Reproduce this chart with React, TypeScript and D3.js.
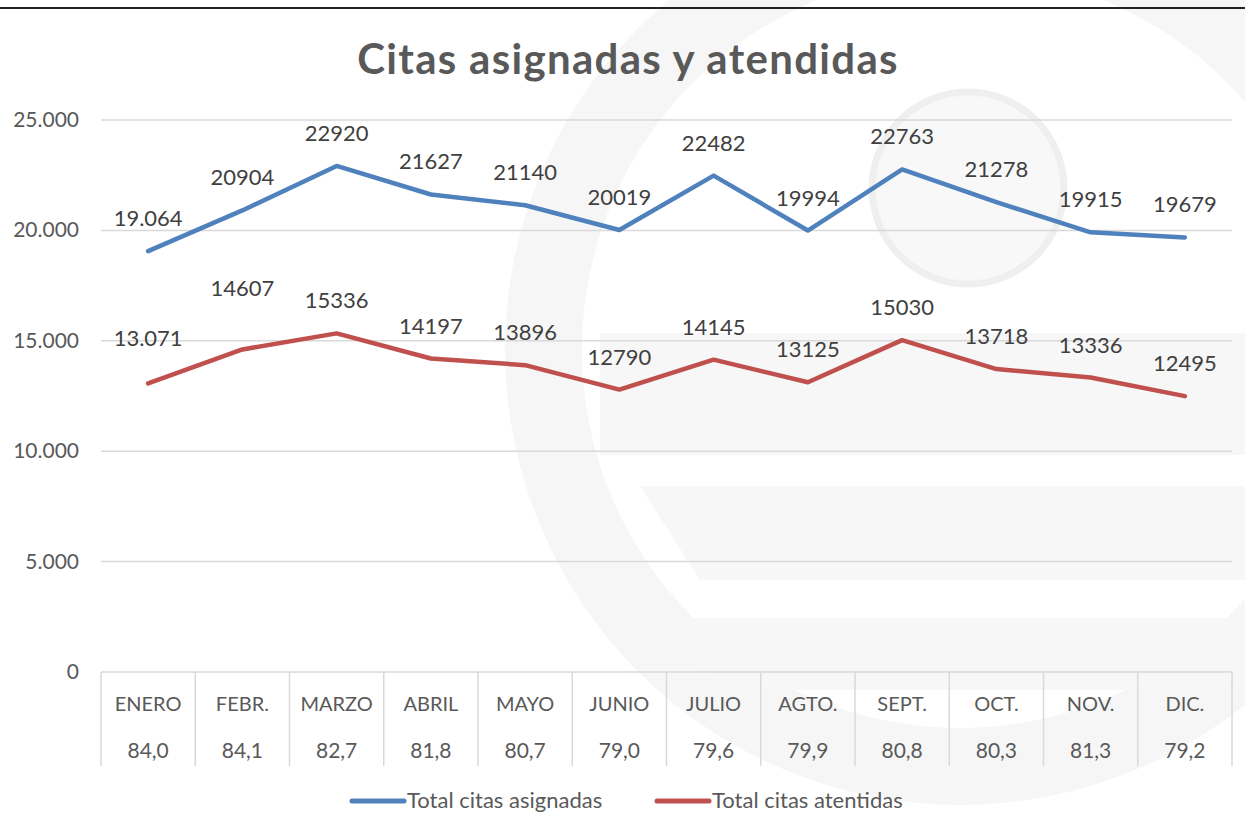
import React from "react";
import * as d3 from "d3";

const months = ["ENERO", "FEBR.", "MARZO", "ABRIL", "MAYO", "JUNIO", "JULIO", "AGTO.", "SEPT.", "OCT.", "NOV.", "DIC."];
const asignadas = [19064, 20904, 22920, 21627, 21140, 20019, 22482, 19994, 22763, 21278, 19915, 19679];
const atendidas = [13071, 14607, 15336, 14197, 13896, 12790, 14145, 13125, 15030, 13718, 13336, 12495];
const asignadasLabels = ["19.064", "20904", "22920", "21627", "21140", "20019", "22482", "19994", "22763", "21278", "19915", "19679"];
const atendidasLabels = ["13.071", "14607", "15336", "14197", "13896", "12790", "14145", "13125", "15030", "13718", "13336", "12495"];
const porcentajes = ["84,0", "84,1", "82,7", "81,8", "80,7", "79,0", "79,6", "79,9", "80,8", "80,3", "81,3", "79,2"];
const yTicks = [0, 5000, 10000, 15000, 20000, 25000];
const yTickLabels = ["0", "5.000", "10.000", "15.000", "20.000", "25.000"];
const seriesNames = ["Total citas asignadas", "Total citas atentidas"];

const W = 1245;
const H = 835;
const FONT = "Lato, 'Open Sans', sans-serif";
const BLUE = "#4f81bd";
const RED = "#c0504d";
const GRID = "#d9d9d9";

// manual label nudges (extra px above default), as in the original chart
const redNudge: Record<number, number> = { 0: 12, 1: 28 };

export default function App() {
  const x = d3.scaleBand<string>().domain(months).range([101, 1232]);
  const y = d3.scaleLinear().domain([0, 25000]).range([672, 120]);
  const cx = (m: string) => (x(m) as number) + x.bandwidth() / 2;

  const line = d3
    .line<number>()
    .x((_, i) => cx(months[i]))
    .y((d) => y(d))
    .curve(d3.curveLinear);

  const tableBottom = 766;
  const ring = d3.arc()({ innerRadius: 378, outerRadius: 455, startAngle: 0, endAngle: 2 * Math.PI }) as string;

  return (
    <div style={{ position: "fixed", left: 0, top: 0, width: W, height: H, background: "#fff" }}>
      <svg width={W} height={H} style={{ display: "block", fontFamily: FONT }}>
        <rect x={0} y={0} width={W} height={H} fill="#ffffff" />
        {/* faint watermark */}
        <g fill="#f6f6f6" stroke="none">
          <path d={ring} transform="translate(960,350)" />
          <circle cx={968} cy={188} r={96} fill="#f8f8f8" stroke="#efefef" strokeWidth={7} />
          <rect x={600} y={333} width={645} height={122} fill="#f7f7f7" />
          <path d="M640,486 L1245,486 L1245,580 L700,580 Z" fill="#f7f7f7" />
          <path d="M660,618 L1245,618 L1245,690 L720,690 Z" fill="#f7f7f7" />
        </g>
        <line x1={0} x2={W} y1={8} y2={8} stroke="#222" strokeWidth={2} />

        <text x={628} y={74} textAnchor="middle" fontSize={42} fontWeight={700} letterSpacing={1.3} fill="#595959">
          Citas asignadas y atendidas
        </text>

        {/* gridlines */}
        {yTicks.map((t, i) => (
          <g key={t}>
            <line x1={101} x2={1232} y1={y(t)} y2={y(t)} stroke={GRID} strokeWidth={1.5} />
            <text x={79} y={y(t) + 7} textAnchor="end" fontSize={21} fill="#595959">
              {yTickLabels[i]}
            </text>
          </g>
        ))}

        {/* data table lines */}
        {[...months.map((m) => x(m) as number), 1232].map((xx, i) => (
          <line key={i} x1={xx} x2={xx} y1={672} y2={tableBottom} stroke={GRID} strokeWidth={1.5} />
        ))}
        {months.map((m, i) => (
          <g key={m}>
            <text x={cx(m)} y={711} textAnchor="middle" fontSize={20} fill="#595959">
              {m}
            </text>
            <text x={cx(m)} y={758} textAnchor="middle" fontSize={21} fill="#595959">
              {porcentajes[i]}
            </text>
          </g>
        ))}

        {/* lines */}
        <path d={line(asignadas) as string} fill="none" stroke={BLUE} strokeWidth={4.5} strokeLinejoin="round" strokeLinecap="round" />
        <path d={line(atendidas) as string} fill="none" stroke={RED} strokeWidth={4.5} strokeLinejoin="round" strokeLinecap="round" />

        {/* data labels */}
        {asignadas.map((v, i) => (
          <text key={"a" + i} x={cx(months[i])} y={y(v) - 25} textAnchor="middle" fontSize={22} fill="#404040">
            {asignadasLabels[i]}
          </text>
        ))}
        {atendidas.map((v, i) => (
          <text key={"b" + i} x={cx(months[i])} y={y(v) - 25 - (redNudge[i] || 0)} textAnchor="middle" fontSize={22} fill="#404040">
            {atendidasLabels[i]}
          </text>
        ))}

        {/* legend */}
        <line x1={352} x2={404} y1={801} y2={801} stroke={BLUE} strokeWidth={5} strokeLinecap="round" />
        <text x={407} y={808} fontSize={22} fill="#595959">
          {seriesNames[0]}
        </text>
        <line x1={657} x2={709} y1={801} y2={801} stroke={RED} strokeWidth={5} strokeLinecap="round" />
        <text x={712} y={808} fontSize={22} fill="#595959">
          {seriesNames[1]}
        </text>
      </svg>
    </div>
  );
}
